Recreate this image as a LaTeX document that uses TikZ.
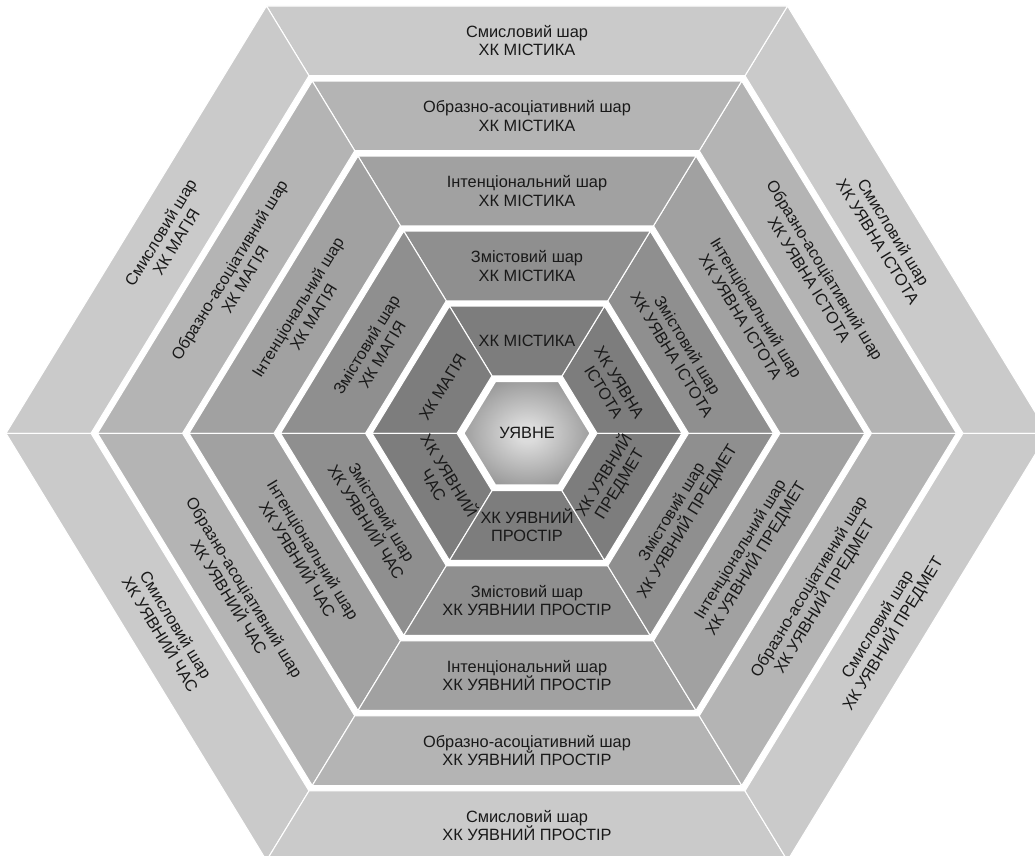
\documentclass[tikz,border=0pt]{standalone}
\usepackage{fontspec}
\setmainfont{Liberation Sans}
\definecolor{tone1}{HTML}{7D7D7D}
\definecolor{tone2}{HTML}{8F8F8F}
\definecolor{tone3}{HTML}{A1A1A1}
\definecolor{tone4}{HTML}{B4B4B4}
\definecolor{tone5}{HTML}{CACACA}
\definecolor{corelight}{HTML}{DCDCDC}
\definecolor{coredark}{HTML}{6C6C6C}
\pgfdeclareradialshading{coreglow}{\pgfpoint{0bp}{0bp}}{color(0bp)=(corelight); color(4bp)=(corelight); color(42bp)=(coredark); color(50bp)=(coredark)}
\tikzset{
  band/.style={draw=white, line width=0.6pt},
  lbl/.style={align=center, inner sep=0pt, text=black!90, font=\fontsize{9.3}{10.4}\selectfont},
}
\begin{document}
\begin{tikzpicture}[x=0.2mm, y=0.2mm, line join=round]
\useasboundingbox (-527,-422.7) rectangle (508,433.3);
\begin{scope}[yscale=0.947]
% rings of six bands
\foreach \k in {1,...,5}{
  \pgfmathsetmacro\ri{70+91.5*(\k-1)}
  \pgfmathsetmacro\ro{\ri+85}
  \foreach \j in {0,...,5}
    \filldraw[band, fill=tone\k] ({60*\j}:\ri) -- ({60*\j}:\ro) -- ({60*\j+60}:\ro) -- ({60*\j+60}:\ri) -- cycle;
}
% core
\shadedraw[shading=coreglow, draw=white, line width=1.6pt] (0:64) -- (60:64) -- (120:64) -- (180:64) -- (240:64) -- (300:64) -- cycle;
\node[lbl] (core) at (0,0) {УЯВНЕ};
% inner ring
\foreach \j/\topic/\rot in {0/ХК УЯВНА\\ІСТОТА/-58.6, 1/ХК МІСТИКА/0, 2/ХК МАГІЯ/58.6,
    3/ХК УЯВНИЙ\\ЧАС/-58.6, 4/ХК УЯВНИЙ\\ПРОСТІР/0, 5/ХК УЯВНИЙ\\ПРЕДМЕТ/58.6}
  \node[lbl, rotate=\rot] (s1-\j) at ({60*\j+30}:{0.866*112.5}) {\topic};
% outer rings
\foreach \k/\layer/\bottom in {2/Змістовий шар/ХК УЯВНИИ ПРОСТІР,
    3/Інтенціональний шар/ХК УЯВНИЙ ПРОСТІР,
    4/Образно-асоціативний шар/ХК УЯВНИЙ ПРОСТІР,
    5/Смисловий шар/ХК УЯВНИЙ ПРОСТІР}
  \foreach \j/\topic/\rot in {0/ХК УЯВНА ІСТОТА/-58.6, 1/ХК МІСТИКА/0, 2/ХК МАГІЯ/58.6,
      3/ХК УЯВНИЙ ЧАС/-58.6, 4/\bottom/0, 5/ХК УЯВНИЙ ПРЕДМЕТ/58.6}
    \node[lbl, rotate=\rot] (s\k-\j) at ({60*\j+30}:{0.866*(112.5+91.5*(\k-1))}) {\layer\\\topic};
\end{scope}
\end{tikzpicture}
\end{document}
